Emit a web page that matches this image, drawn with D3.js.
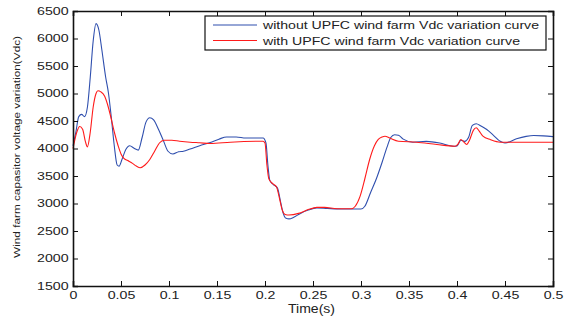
<!DOCTYPE html>
<html>
<head>
<meta charset="utf-8">
<script src="https://cdn.jsdelivr.net/npm/d3@7"></script>
<style>
  body { margin: 0; background: #fff; }
  text { font-family: "Liberation Sans", Arial, sans-serif; fill: #222; }
</style>
</head>
<body>
<div id="chart"></div>
<script>
// series: without UPFC (blue)
const tWithout = [0, 0.003, 0.006, 0.009, 0.012, 0.015, 0.018, 0.021, 0.024, 0.027, 0.030, 0.034, 0.037, 0.040, 0.043, 0.046, 0.048, 0.051, 0.055, 0.059, 0.064, 0.068, 0.072, 0.076, 0.080, 0.084, 0.089, 0.094, 0.099, 0.104, 0.110, 0.115, 0.122, 0.132, 0.143, 0.152, 0.160, 0.170, 0.180, 0.198, 0.201, 0.203, 0.205, 0.209, 0.213, 0.216, 0.219, 0.222, 0.225, 0.230, 0.236, 0.245, 0.254, 0.265, 0.280, 0.300, 0.304, 0.310, 0.316, 0.322, 0.327, 0.331, 0.335, 0.339, 0.344, 0.354, 0.368, 0.382, 0.396, 0.400, 0.404, 0.408, 0.412, 0.416, 0.420, 0.425, 0.431, 0.438, 0.445, 0.450, 0.462, 0.472, 0.480, 0.490, 0.500];
const vWithout = [4050, 4300, 4580, 4620, 4580, 4750, 5300, 5950, 6270, 6150, 5800, 5300, 5000, 4550, 4050, 3700, 3680, 3800, 3980, 4050, 4000, 3970, 4200, 4480, 4560, 4520, 4350, 4150, 3950, 3900, 3940, 3950, 3990, 4050, 4110, 4170, 4210, 4210, 4190, 4190, 4100, 3700, 3420, 3340, 3280, 3050, 2820, 2730, 2720, 2750, 2810, 2880, 2920, 2910, 2900, 2900, 2950, 3200, 3450, 3750, 4020, 4200, 4250, 4240, 4170, 4115, 4130, 4100, 4040, 4045, 4150, 4130, 4200, 4420, 4450, 4410, 4345, 4240, 4130, 4100, 4176, 4220, 4236, 4230, 4215];

// series: with UPFC (red)
const tWith = [0, 0.004, 0.007, 0.010, 0.013, 0.015, 0.018, 0.021, 0.024, 0.026, 0.029, 0.033, 0.036, 0.039, 0.043, 0.047, 0.050, 0.053, 0.057, 0.062, 0.066, 0.070, 0.075, 0.080, 0.085, 0.090, 0.095, 0.103, 0.111, 0.122, 0.132, 0.143, 0.164, 0.198, 0.200, 0.202, 0.204, 0.208, 0.212, 0.215, 0.218, 0.221, 0.225, 0.235, 0.245, 0.254, 0.262, 0.275, 0.290, 0.294, 0.299, 0.304, 0.309, 0.314, 0.318, 0.322, 0.325, 0.330, 0.339, 0.358, 0.379, 0.398, 0.401, 0.404, 0.407, 0.410, 0.413, 0.417, 0.420, 0.423, 0.427, 0.435, 0.445, 0.500];
const vWith = [4000, 4300, 4400, 4350, 4120, 4030, 4300, 4750, 5000, 5050, 5030, 4950, 4800, 4600, 4300, 4050, 3900, 3820, 3780, 3730, 3680, 3650, 3700, 3800, 3950, 4100, 4150, 4150, 4133, 4115, 4104, 4091, 4115, 4133, 4100, 3700, 3450, 3360, 3300, 3100, 2880, 2800, 2790, 2820, 2890, 2930, 2930, 2905, 2905, 2950, 3130, 3450, 3800, 4050, 4164, 4210, 4224, 4190, 4133, 4115, 4073, 4042, 4080, 4164, 4120, 4073, 4150, 4330, 4376, 4320, 4224, 4160, 4115, 4115];

const xTicks = [0, 0.05, 0.1, 0.15, 0.2, 0.25, 0.3, 0.35, 0.4, 0.45, 0.5];
const yTicks = [1500, 2000, 2500, 3000, 3500, 4000, 4500, 5000, 5500, 6000, 6500];
const seriesNames = ['without UPFC wind farm Vdc variation curve', 'with UPFC wind farm Vdc variation curve'];
const seriesColors = ['#2f4fae', '#ff1a1a'];

const W = 579, H = 320;
const margin = {top: 11, right: 26, bottom: 34, left: 73};
const width = W - margin.left - margin.right;
const height = H - margin.top - margin.bottom;

const svg = d3.select('#chart').append('svg')
  .attr('width', W).attr('height', H);

const g = svg.append('g')
  .attr('transform', 'translate(' + margin.left + ',' + margin.top + ')');

const x = d3.scaleLinear().domain([0, 0.5]).range([0, width]);
const y = d3.scaleLinear().domain([1500, 6500]).range([height, 0]);

// curves
const line = d3.line()
  .x(d => x(d[0]))
  .y(d => y(d[1]))
  .curve(d3.curveMonotoneX);

const series = [
  d3.zip(tWithout, vWithout),
  d3.zip(tWith, vWith)
];

g.selectAll('.curve')
  .data(series)
  .enter().append('path')
  .attr('class', 'curve')
  .attr('d', line)
  .attr('fill', 'none')
  .attr('stroke', (d, i) => seriesColors[i])
  .attr('stroke-width', 1.1);

// axes, MATLAB style with inward ticks
const fmtX = d => d === 0 ? '0' : String(d);
const xAxis = d3.axisBottom(x).tickValues(xTicks).tickSize(-5).tickPadding(5.5).tickFormat(fmtX);
const yAxis = d3.axisLeft(y).tickValues(yTicks).tickSize(-5).tickPadding(3.3).tickFormat(d => d);

g.append('g').attr('transform', 'translate(0,' + height + ')').call(xAxis);
g.append('g').call(yAxis);
g.append('g').call(d3.axisTop(x).tickValues(xTicks).tickSize(-5).tickFormat(''));
g.append('g').attr('transform', 'translate(' + width + ',0)')
  .call(d3.axisRight(y).tickValues(yTicks).tickSize(-5).tickFormat(''));

g.selectAll('.domain').attr('stroke', '#111').attr('stroke-width', 1.6);
g.selectAll('.tick line').attr('stroke', '#111');
// the original's labels are wide: stretch them sideways
g.selectAll('.tick text')
  .attr('font-size', 10.5)
  .attr('fill', '#222')
  .attr('font-family', '"Liberation Sans", Arial, sans-serif')
  .attr('transform', 'scale(1.35,1)');

// axis titles
svg.append('text')
  .attr('x', 311.5)
  .attr('y', 313)
  .attr('text-anchor', 'middle')
  .attr('font-size', 12)
  .attr('textLength', 47)
  .attr('lengthAdjust', 'spacingAndGlyphs')
  .text('Time(s)');

svg.append('text')
  .attr('transform', 'translate(20,' + 147 + ') rotate(-90)')
  .attr('text-anchor', 'middle')
  .attr('font-size', 9.5)
  .attr('textLength', 222)
  .attr('lengthAdjust', 'spacingAndGlyphs')
  .text('Wind farm capasitor voltage variation(Vdc)');

// legend
const legendWidths = [276, 257];
const legend = svg.append('g').attr('transform', 'translate(205,16)');
legend.append('rect')
  .attr('width', 341).attr('height', 34)
  .attr('fill', '#fff').attr('stroke', '#111').attr('stroke-width', 1.2);

const item = legend.selectAll('.item')
  .data(seriesNames)
  .enter().append('g')
  .attr('class', 'item')
  .attr('transform', (d, i) => 'translate(0,' + (9 + i * 15.5) + ')');

item.append('line')
  .attr('x1', 8).attr('x2', 52)
  .attr('stroke', (d, i) => seriesColors[i])
  .attr('stroke-width', 1.1);

item.append('text')
  .attr('x', 58).attr('y', 4)
  .attr('font-size', 11.5)
  .attr('textLength', (d, i) => legendWidths[i])
  .attr('lengthAdjust', 'spacingAndGlyphs')
  .text(d => d);
</script>
</body>
</html>
